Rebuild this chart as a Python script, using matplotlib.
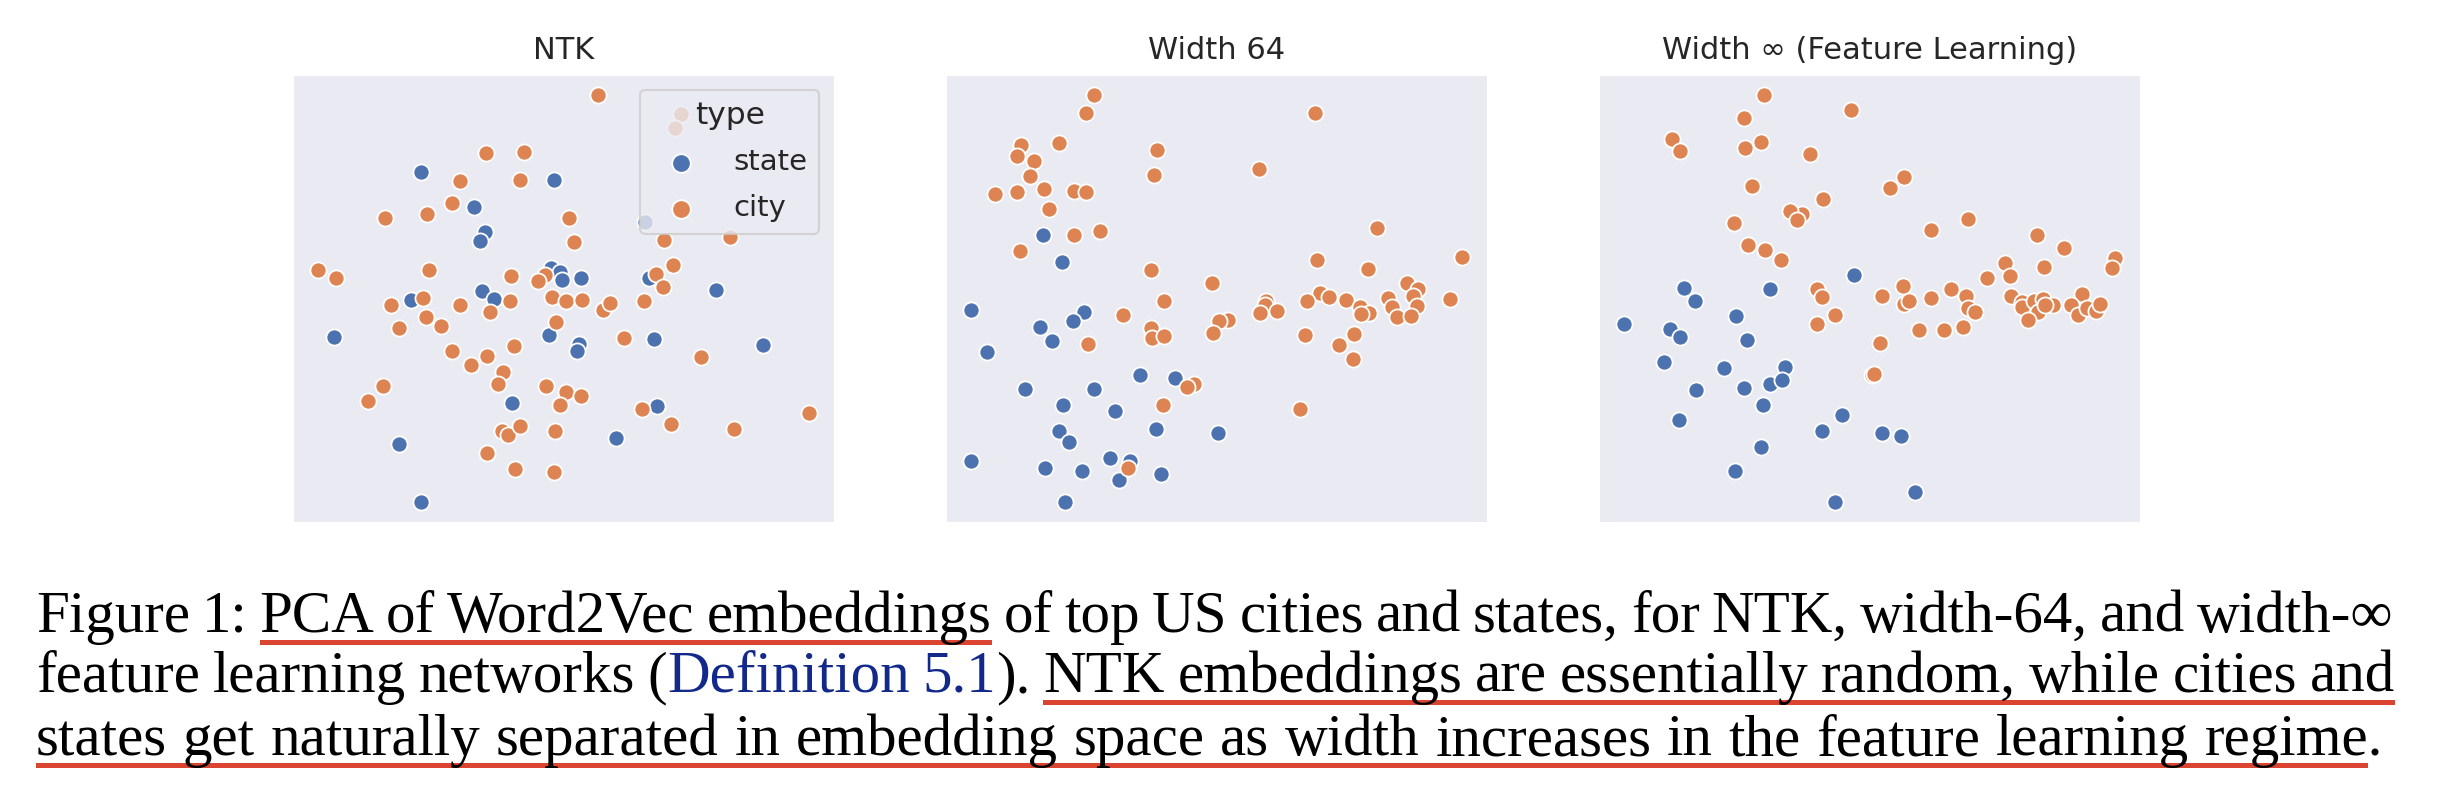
import matplotlib
matplotlib.use('Agg')
import matplotlib.pyplot as plt
import seaborn as sns
from matplotlib.patches import Rectangle

# --- scatter data (PCA coordinates) ---
ntk_state_x = [37.7, 75.2, 52.8, 55.9, 54.3, 74.5, 77.0, 77.5, 82.9, 102.0, 120.7, 55.1, 58.4,
               35.0, 13.2, 73.9, 82.3, 81.6, 103.5, 134.1, 63.4, 104.2, 92.6, 31.7, 37.7, 100.8]
ntk_state_y = [105.5, 103.2, 95.0, 87.5, 84.9, 76.5, 75.5, 73.1, 73.5, 73.7, 70.0, 69.8, 67.2,
               66.8, 55.8, 56.3, 53.5, 51.4, 55.2, 53.3, 35.9, 35.0, 25.1, 23.5, 6.0, 90.4]
ntk_city_x = [87.5, 56.1, 66.7, 48.7, 65.7, 46.6, 27.8, 39.5, 79.5, 80.8, 106.3, 124.7, 108.6,
              103.8, 105.8, 8.7, 13.9, 40.1, 63.1, 72.8, 70.6, 29.3, 38.4, 48.9, 57.2, 62.9,
              74.7, 78.6, 83.2, 89.0, 90.9, 100.6, 39.1, 31.5, 43.5, 75.7, 94.9, 64.0, 46.4,
              56.4, 52.0, 116.6, 61.0, 59.4, 27.2, 23.0, 73.0, 78.7, 82.8, 76.8, 99.9, 108.1,
              125.8, 147.1, 60.5, 62.2, 65.6, 75.5, 56.4, 64.3, 75.2, 111.0, 109.3]
ntk_city_y = [128.8, 111.3, 111.6, 102.9, 103.2, 96.2, 91.7, 93.0, 91.7, 84.5, 85.0, 86.0, 77.5,
              74.7, 70.9, 75.9, 73.6, 75.9, 74.2, 74.5, 72.7, 65.5, 67.4, 65.5, 63.3, 66.5,
              67.9, 66.5, 67.0, 64.0, 65.9, 66.5, 61.9, 58.5, 59.1, 60.3, 55.5, 53.1, 51.4,
              50.1, 47.4, 49.7, 45.2, 41.7, 40.9, 36.4, 40.9, 39.2, 37.8, 35.2, 34.1, 29.5,
              27.9, 32.7, 27.5, 26.1, 28.9, 27.4, 20.8, 15.8, 15.0, 123.2, 118.8]

w64_state_x = [29.2, 34.3, 8.8, 40.5, 37.6, 28.2, 31.7, 13.2, 56.2, 66.3, 24.1, 43.5, 34.7,
               49.3, 33.5, 36.5, 60.9, 78.2, 8.7, 29.5, 39.9, 47.9, 53.5, 50.4, 62.3, 35.2]
w64_state_y = [86.7, 78.4, 63.8, 63.4, 60.6, 58.8, 54.5, 51.2, 44.4, 43.5, 40.2, 40.2, 35.2,
               33.4, 27.4, 24.1, 27.9, 26.7, 18.2, 16.2, 15.2, 19.2, 18.2, 12.7, 14.3, 6.0]
w64_city_x = [43.4, 41.1, 105.5, 22.8, 21.8, 33.6, 26.6, 61.1, 25.3, 60.2, 89.8, 15.5, 21.8,
              29.4, 37.7, 41.2, 30.7, 37.7, 45.0, 22.5, 123.1, 106.2, 147.0, 120.5, 59.5, 76.7,
              63.2, 51.6, 106.9, 109.4, 103.3, 114.3, 118.1, 120.6, 118.5, 126.1, 131.5, 134.6,
              133.1, 134.1, 127.2, 128.5, 132.6, 143.4, 91.8, 91.6, 90.0, 95.0, 81.0, 78.5,
              76.8, 59.3, 59.8, 63.2, 41.7, 102.6, 116.5, 112.4, 116.1, 71.6, 69.5, 62.7,
              101.3, 53.1]
w64_city_y = [128.8, 123.6, 123.6, 113.9, 110.5, 114.3, 109.0, 112.2, 104.3, 104.8, 106.4, 99.0,
              99.5, 100.6, 100.0, 99.7, 94.4, 86.6, 87.9, 81.8, 88.7, 78.9, 79.8, 76.3, 75.9,
              72.0, 66.5, 62.4, 69.2, 67.8, 66.7, 67.0, 64.8, 63.0, 62.8, 67.7, 72.1, 70.4,
              68.2, 65.2, 64.8, 61.8, 62.1, 67.3, 66.5, 65.5, 62.9, 63.7, 61.0, 60.5, 57.0,
              58.5, 55.5, 56.0, 53.7, 56.5, 56.8, 53.2, 49.2, 41.7, 40.7, 35.2, 34.0, 16.3]

inf_state_x = [73.8, 25.9, 29.0, 50.3, 9.0, 40.6, 22.0, 24.8, 43.7, 20.4, 37.3, 54.3, 50.3,
               53.5, 29.5, 43.0, 48.3, 24.5, 70.4, 64.8, 81.6, 87.1, 47.7, 40.4, 91.0, 68.5]
inf_state_y = [74.5, 70.6, 66.6, 70.3, 59.7, 62.0, 58.2, 55.7, 55.0, 48.3, 46.3, 46.6, 41.5,
               42.7, 39.7, 40.5, 35.2, 30.7, 32.1, 27.3, 26.7, 25.8, 22.5, 15.2, 8.8, 6.0]
inf_city_x = [48.5, 72.9, 43.0, 22.7, 24.8, 43.1, 47.8, 61.5, 87.8, 84.1, 45.0, 65.2, 59.2,
              55.9, 57.7, 40.2, 95.4, 105.8, 125.2, 133.0, 44.0, 48.8, 53.2, 116.4, 117.6,
              127.3, 147.4, 146.5, 111.2, 87.5, 63.4, 64.9, 81.7, 88.0, 89.3, 95.6, 101.2,
              105.4, 106.0, 107.9, 68.4, 63.3, 92.1, 99.2, 104.6, 81.1, 79.0, 79.4, 118.0,
              121.0, 121.2, 124.5, 127.0, 125.7, 122.8, 129.7, 137.9, 135.0, 137.0, 139.3,
              141.8, 143.0, 127.5]
inf_city_y = [128.8, 124.4, 122.0, 115.5, 112.0, 112.8, 114.6, 111.1, 104.2, 100.8, 101.5, 97.4,
              92.9, 93.9, 91.2, 90.3, 88.2, 91.4, 86.5, 82.7, 83.5, 82.1, 78.9, 78.0, 74.3,
              77.0, 79.6, 76.7, 73.5, 71.2, 70.4, 67.9, 68.1, 65.7, 66.5, 67.6, 70.4, 68.1,
              64.4, 63.3, 62.5, 59.7, 58.0, 57.9, 58.9, 54.1, 44.2, 44.6, 68.2, 66.2, 64.8,
              66.5, 67.2, 63.3, 60.8, 65.5, 68.7, 65.3, 62.5, 64.5, 63.7, 65.7, 65.5]

titles = ['NTK', 'Width 64', 'Width \u221e (Feature Learning)']

caption_lines = [
    'Figure 1: PCA of Word2Vec embeddings of top US cities and states, for NTK, width-64, and width-\u221e',
    'feature learning networks (Definition 5.1). NTK embeddings are essentially random, while cities and',
    'states get naturally separated in embedding space as width increases in the feature learning regime.',
]
# underlined word ranges per line (inclusive)
underlined = [(2, 5), (5, 12), (0, 14)]

ink = 'black'
link = '#12288a'
red = '#db4430'
link_pieces = {'(Definition': [('(', ink), ('Definition', link)],
               '5.1).': [('5.1', link), (').', ink)]}

W, H = 2448, 802
sns.set_style('darkgrid')
fig = plt.figure(figsize=(W / 100, H / 100), dpi=100)

panels = [
    (ntk_state_x, ntk_state_y, ntk_city_x, ntk_city_y),
    (w64_state_x, w64_state_y, w64_city_x, w64_city_y),
    (inf_state_x, inf_state_y, inf_city_x, inf_city_y),
]
lefts = [293, 946, 1599]
blue, orange = '#4C72B0', '#DD8452'

for i, (sx, sy, cx, cy) in enumerate(panels):
    ax = fig.add_axes([lefts[i] / W, 1 - 522 / H, 541 / W, 447 / H])
    ax.scatter(sx, sy, s=135, c=blue, edgecolors='white', linewidths=1.3, label='state')
    ax.scatter(cx, cy, s=135, c=orange, edgecolors='white', linewidths=1.3, label='city')
    ax.set_xticks([])
    ax.set_yticks([])
    ax.set_title(titles[i], fontsize=22, pad=11.5, color='#262626')
    if i == 0:
        leg = ax.legend(title='type', loc='upper right', fontsize=21, title_fontsize=22.5,
                        scatterpoints=1, markerscale=1.15, labelspacing=0.62)
        leg.get_frame().set_linewidth(1.5)

# --- caption, justified word by word ---
renderer = fig.canvas.get_renderer()
cap_font = dict(family=['Liberation Serif', 'DejaVu Serif'], size=42.5)
left_px = 36
right_px = [2393, 2395, 2383]
baselines = [632, 692, 755]


def measure(s):
    t = fig.text(0, 0, s, **cap_font)
    w = t.get_window_extent(renderer).width
    t.remove()
    return w


for li, line in enumerate(caption_lines):
    words = line.split(' ')
    pieces = [link_pieces.get(w, [(w, ink)]) for w in words]
    widths = [sum(measure(p) for p, _ in wp) for wp in pieces]
    gap = (right_px[li] - left_px - sum(widths)) / (len(words) - 1)
    y = 1 - baselines[li] / H
    x = left_px
    starts = []
    for wp, wd in zip(pieces, widths):
        starts.append(x)
        px = x
        for p, col in wp:
            fig.text(px / W, y, p, color=col, va='baseline', ha='left', **cap_font)
            px += measure(p)
        x += wd + gap
    a, b = underlined[li]
    x0 = starts[a]
    last = words[b]
    x1 = starts[b] + widths[b] - (measure('.') if last.endswith('.') else 0)
    fig.add_artist(Rectangle((x0 / W, 1 - (baselines[li] + 13) / H), (x1 - x0) / W, 5 / H,
                             transform=fig.transFigure, color=red, lw=0))

fig.savefig('out.png', dpi=100)
